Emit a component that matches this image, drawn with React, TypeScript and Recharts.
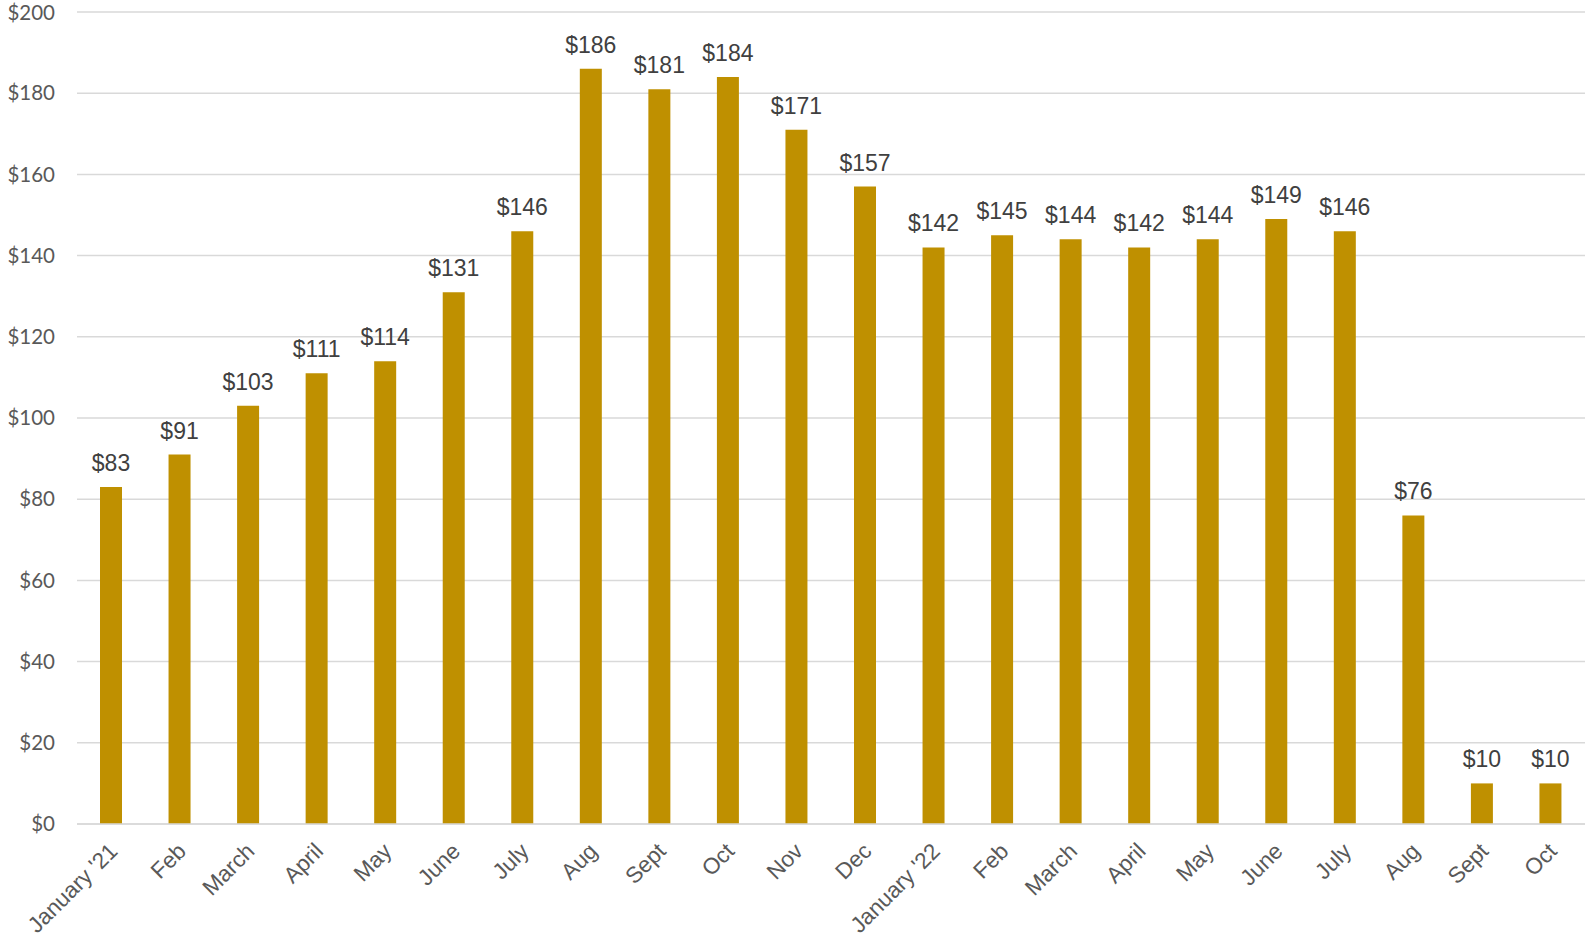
import React from 'react';
import { BarChart, Bar, XAxis, YAxis, CartesianGrid, LabelList } from 'recharts';

const months = [
  "January '21", 'Feb', 'March', 'April', 'May', 'June', 'July', 'Aug', 'Sept', 'Oct', 'Nov', 'Dec',
  "January '22", 'Feb', 'March', 'April', 'May', 'June', 'July', 'Aug', 'Sept', 'Oct'
];
const values = [83, 91, 103, 111, 114, 131, 146, 186, 181, 184, 171, 157, 142, 145, 144, 142, 144, 149, 146, 76, 10, 10];
const yTicks = [0, 20, 40, 60, 80, 100, 120, 140, 160, 180, 200];

const data = months.map((month, i) => ({ month, value: values[i] }));

const MonthTick = (props: any) => {
  const { x, y, payload } = props;
  return (
    <g transform={`translate(${x + 2},${y + 15})`}>
      <text
        transform="rotate(-45)"
        textAnchor="end"
        dy="0.35em"
        fill="#595959"
        fontSize={22.5}
        fontFamily="'Liberation Sans', Arial, sans-serif"
      >
        {payload.value}
      </text>
    </g>
  );
};

// nudges the top label so it is not clipped at the page edge
const DollarTick = (props: any) => {
  const { x, y, payload } = props;
  const yy = Math.max(y, 13);
  return (
    <text
      x={x}
      y={yy}
      dy="0.35em"
      textAnchor="end"
      fill="#595959"
      fontSize={20.5}
      fontFamily='Lato, "Open Sans", sans-serif'
    >
      {`$${payload.value}`}
    </text>
  );
};

export default function App() {
  return (
    <div style={{ position: 'absolute', left: 0, top: 0, width: 1587, height: 943, background: '#fff' }}>
      <BarChart
        width={1587}
        height={943}
        data={data}
        margin={{ top: 12, right: 2, left: 0, bottom: 0 }}
      >
        <CartesianGrid vertical={false} stroke="#D9D9D9" strokeWidth={1.5} />
        <XAxis
          dataKey="month"
          interval={0}
          height={119}
          tickLine={false}
          axisLine={{ stroke: '#D9D9D9', strokeWidth: 1.5 }}
          tick={<MonthTick />}
        />
        <YAxis
          width={77}
          domain={[0, 200]}
          ticks={yTicks}
          interval={0}
          axisLine={false}
          tickLine={false}
          tickMargin={16}
          tick={<DollarTick />}
        />
        <Bar dataKey="value" fill="#BF9000" barSize={22} isAnimationActive={false}>
          <LabelList
            dataKey="value"
            position="top"
            offset={16}
            formatter={(v: any) => `$${v}`}
            fill="#404040"
            fontSize={23}
            fontFamily="'Liberation Sans', Arial, sans-serif"
          />
        </Bar>
      </BarChart>
    </div>
  );
}
